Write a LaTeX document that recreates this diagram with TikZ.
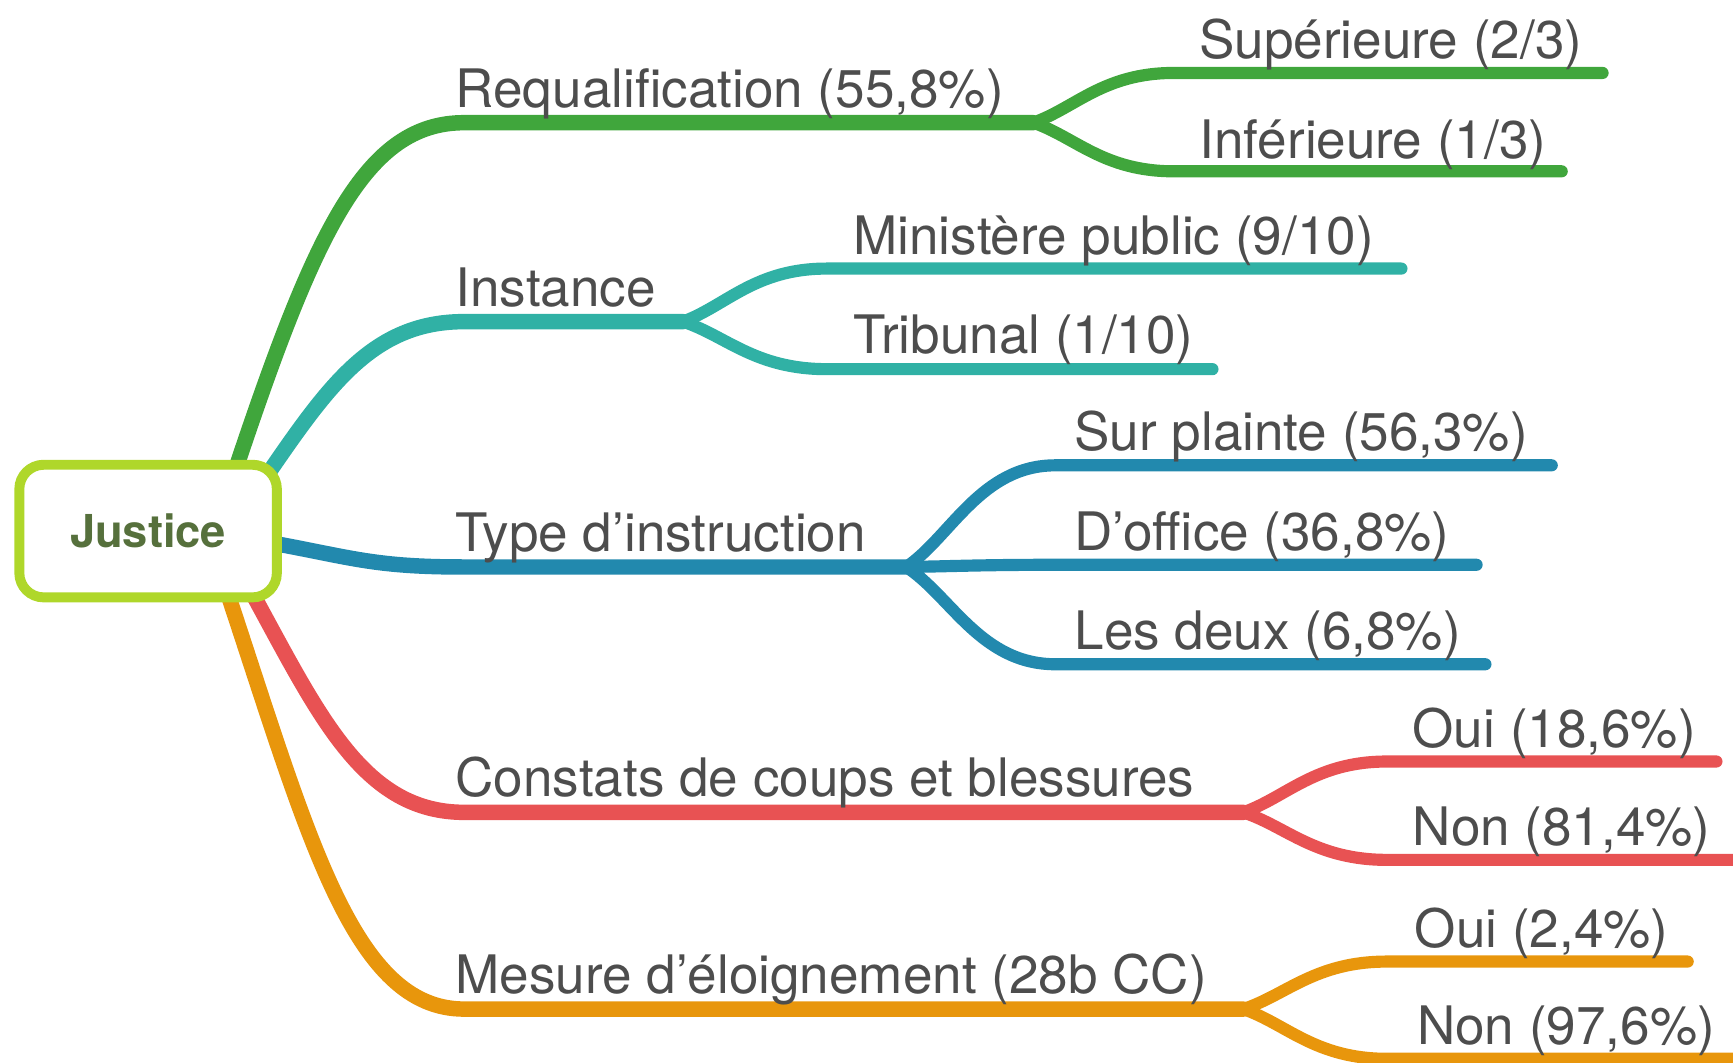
\documentclass[tikz,border=0pt]{standalone}
\usepackage{fontspec}
\setmainfont{TeX Gyre Heros}
\usetikzlibrary{calc}
\definecolor{cGreen}{HTML}{40A63C}
\definecolor{cTeal}{HTML}{30B1A5}
\definecolor{cBlue}{HTML}{2289AE}
\definecolor{cRed}{HTML}{E85253}
\definecolor{cOrange}{HTML}{E8960C}
\definecolor{cLime}{HTML}{AFD72A}
\definecolor{cJust}{HTML}{56703C}
\definecolor{cText}{HTML}{4D4D4D}
\begin{document}
\begin{tikzpicture}[x=1pt,y=-1pt,
  mainln/.style={line width=14pt, line cap=round, line join=round},
  subln/.style={line width=11pt, line cap=round, line join=round},
  lbl/.style={anchor=base west, inner sep=0pt, text=cText, font=\fontsize{48}{56}\selectfont},
  rootbox/.style={draw=cLime, line width=9pt, fill=white, rounded corners=22pt,
    minimum width=233pt, minimum height=120pt, text=cJust, font=\fontsize{41}{48}\selectfont\bfseries},
]
\useasboundingbox (0,0) rectangle (1568,961);

% anchor coordinates
\coordinate (sG) at (213,425);
\coordinate (sT) at (245,425);
\coordinate (sB) at (250,492);
\coordinate (sR) at (230,540);
\coordinate (sO) at (207,540);

\coordinate (hG) at (420,111);
\coordinate (hT) at (420,291);
\coordinate (hB) at (420,513);
\coordinate (hR) at (420,735);
\coordinate (hO) at (420,913);

\coordinate (jG) at (935,111);
\coordinate (jT) at (618,291);
\coordinate (jB) at (820,513);
\coordinate (jR) at (1125,735);
\coordinate (jO) at (1125,913);

\coordinate (eG1) at (1062,66);   \coordinate (fG1) at (1450,66);
\coordinate (eG2) at (1062,155);  \coordinate (fG2) at (1413,155);
\coordinate (eT1) at (748,243);   \coordinate (fT1) at (1268,243);
\coordinate (eT2) at (748,334);   \coordinate (fT2) at (1097,334);
\coordinate (eB1) at (955,421);   \coordinate (fB1) at (1404,421);
\coordinate (eB2) at (955,511);   \coordinate (fB2) at (1336,511);
\coordinate (eB3) at (955,601);   \coordinate (fB3) at (1344,601);
\coordinate (eR1) at (1255,689);  \coordinate (fR1) at (1553,689);
\coordinate (eR2) at (1255,778);  \coordinate (fR2) at (1590,778);
\coordinate (eO1) at (1255,870);  \coordinate (fO1) at (1527,870);
\coordinate (eO2) at (1255,958);  \coordinate (fO2) at (1590,958);

% main branches
\draw[mainln, cGreen] (sG) .. controls (285,210) and (330,111) .. (hG) -- (jG);
\draw[mainln, cTeal] (sT) .. controls (300,345) and (340,291) .. (hT) -- (jT);
\draw[mainln, cBlue] (sB) .. controls (320,505) and (340,513) .. (hB) -- (jB);
\draw[mainln, cRed] (sR) .. controls (290,650) and (330,735) .. (hR) -- (jR);
\draw[mainln, cOrange] (sO) .. controls (280,760) and (320,913) .. (hO) -- (jO);

% sub branches
\foreach \j/\e/\f/\c in {jG/eG1/fG1/cGreen, jG/eG2/fG2/cGreen,
    jT/eT1/fT1/cTeal, jT/eT2/fT2/cTeal,
    jB/eB1/fB1/cBlue, jB/eB2/fB2/cBlue, jB/eB3/fB3/cBlue,
    jR/eR1/fR1/cRed, jR/eR2/fR2/cRed,
    jO/eO1/fO1/cOrange, jO/eO2/fO2/cOrange}{
  \draw[subln, \c] (\j) .. controls ($(\j)!0.3!(\e)$) and ($(\e)!0.5!(\e -| \j)$) .. (\e) -- (\f);
}

% root
\node[rootbox] (root) at (134,480.5) {Justice};

% labels
\node[lbl] (tG) at (412,97) {Requalification (55,8\%)};
\node[lbl] (tT) at (412,277) {Instance};
\node[lbl] (tB) at (412,499) {Type d’instruction};
\node[lbl] (tR) at (412,721) {Constats de coups et blessures};
\node[lbl] (tO) at (412,899) {Mesure d’éloignement (28b CC)};

\node[lbl] (tG1) at (1085,53) {Supérieure (2/3)};
\node[lbl] (tG2) at (1085,143) {Inférieure (1/3)};
\node[lbl] (tT1) at (772,230) {Ministère public (9/10)};
\node[lbl] (tT2) at (772,320) {Tribunal (1/10)};
\node[lbl] (tB1) at (972,408) {Sur plainte (56,3\%)};
\node[lbl] (tB2) at (972,498) {D’office (36,8\%)};
\node[lbl] (tB3) at (972,588) {Les deux (6,8\%)};
\node[lbl] (tR1) at (1278,676) {Oui (18,6\%)};
\node[lbl] (tR2) at (1278,765) {Non (81,4\%)};
\node[lbl] (tO1) at (1280,857) {Oui (2,4\%)};
\node[lbl] (tO2) at (1282,945) {Non (97,6\%)};
\end{tikzpicture}
\end{document}
